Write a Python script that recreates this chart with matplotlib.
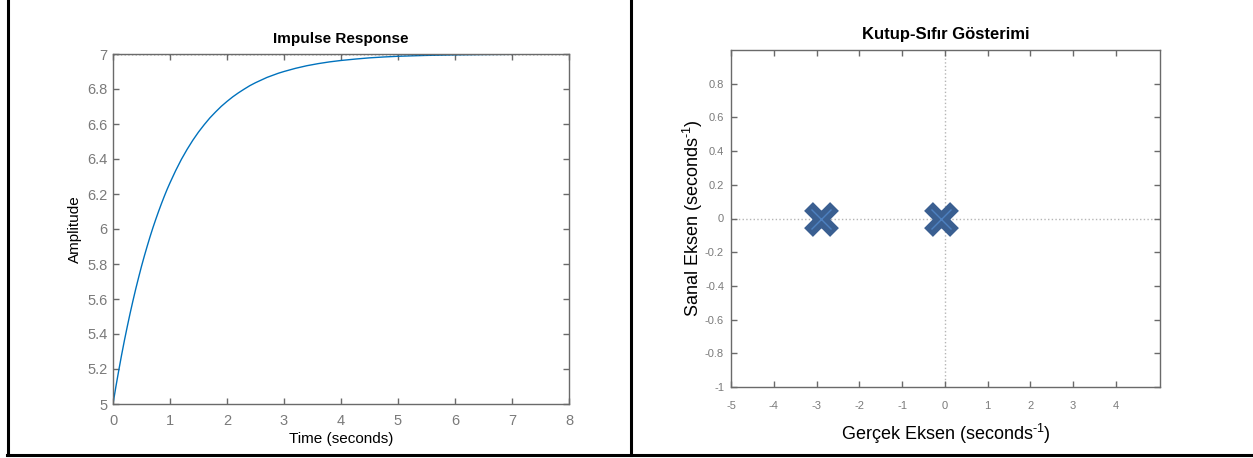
import matplotlib
matplotlib.use("Agg")
import matplotlib.pyplot as plt
from matplotlib.lines import Line2D

plt.rcParams['font.family'] = ['Liberation Sans', 'DejaVu Sans']
plt.rcParams['axes.unicode_minus'] = False
plt.rcParams['mathtext.fontset'] = 'custom'
plt.rcParams['mathtext.rm'] = 'Liberation Sans'
plt.rcParams['mathtext.it'] = 'Liberation Sans'

# Impulse response
time_s = [0, 0.05, 0.1, 0.15, 0.2, 0.25, 0.3, 0.35, 0.4, 0.45, 0.5, 0.55, 0.6, 0.65,
          0.7, 0.75, 0.8, 0.85, 0.9, 0.95, 1.0, 1.1, 1.2, 1.3, 1.4, 1.5, 1.6, 1.7,
          1.8, 1.9, 2.0, 2.1, 2.2, 2.3, 2.4, 2.5, 2.6, 2.7, 2.8, 2.9, 3.0, 3.2, 3.4,
          3.6, 3.8, 4.0, 4.25, 4.5, 4.75, 5.0, 5.5, 6.0, 6.5, 7.0, 7.5, 8.0]
amplitude = [5.000, 5.098, 5.190, 5.279, 5.363, 5.442, 5.518, 5.590, 5.659, 5.724,
             5.787, 5.846, 5.902, 5.956, 6.007, 6.055, 6.101, 6.145, 6.187, 6.227,
             6.264, 6.334, 6.398, 6.455, 6.507, 6.554, 6.596, 6.635, 6.669, 6.701,
             6.729, 6.755, 6.778, 6.799, 6.819, 6.836, 6.851, 6.866, 6.878, 6.890,
             6.900, 6.918, 6.933, 6.945, 6.955, 6.963, 6.971, 6.978, 6.983, 6.987,
             6.992, 6.995, 6.997, 6.998, 6.999, 7.000]
steady_state = 7.0
left_xticks = [0, 1, 2, 3, 4, 5, 6, 7, 8]
left_yticks = [5, 5.2, 5.4, 5.6, 5.8, 6, 6.2, 6.4, 6.6, 6.8, 7]
left_yticklabels = ['5', '5.2', '5.4', '5.6', '5.8', '6', '6.2', '6.4', '6.6', '6.8', '7']

# Pole-zero map (poles)
pole_real = [-2.9, -0.1]
pole_imag = [0.0, 0.0]
right_xticks = [-5, -4, -3, -2, -1, 0, 1, 2, 3, 4]
right_xticklabels = ['-5', '-4', '-3', '-2', '-1', '0', '1', '2', '3', '4']
right_yticks = [-1, -0.8, -0.6, -0.4, -0.2, 0, 0.2, 0.4, 0.6, 0.8]
right_yticklabels = ['-1', '-0.8', '-0.6', '-0.4', '-0.2', '0', '0.2', '0.4', '0.6', '0.8']

W, H = 1253, 458
fig = plt.figure(figsize=(W / 100, H / 100), dpi=100)

spine_c = '#6a6a6a'
label_c = '#7a7a7a'

def style(ax, fs, xpad, ypad):
    for s in ax.spines.values():
        s.set_color(spine_c)
        s.set_linewidth(1.0)
    ax.tick_params(direction='in', top=True, right=True, colors=spine_c,
                   labelcolor=label_c, labelsize=fs, length=4, width=1)
    ax.tick_params(axis='x', pad=xpad)
    ax.tick_params(axis='y', pad=ypad)

# ---- Left panel
ax1 = fig.add_axes([113 / W, 1 - 404 / H, 456 / W, 350 / H])
ax1.plot(time_s, amplitude, color='#0072BD', lw=1.0)
ax1.axhline(steady_state, color='black', ls=':', lw=1.0)
ax1.set_xlim(0, 8)
ax1.set_ylim(5, 7)
ax1.set_xticks(left_xticks)
ax1.set_yticks(left_yticks)
ax1.set_yticklabels(left_yticklabels)
style(ax1, 10.5, 7, 4)
ax1.set_title('Impulse Response', fontsize=11, fontweight='bold', pad=8)
ax1.set_xlabel('Time (seconds)', fontsize=11, labelpad=3)
ax1.set_ylabel('Amplitude', fontsize=11, labelpad=4)

# ---- Right panel
ax2 = fig.add_axes([731 / W, 1 - 387 / H, 429 / W, 337 / H])
ax2.axhline(0, color='#b5b5b5', ls=':', lw=1.0, zorder=1)
ax2.axvline(0, color='#b5b5b5', ls=':', lw=1.0, zorder=1)
ax2.plot(pole_real, pole_imag, ls='none', marker='x', markersize=19,
         markeredgewidth=9, color='#3a5f91', zorder=3)
ax2.plot(pole_real, pole_imag, ls='none', marker='x', markersize=14,
         markeredgewidth=1, color='#4d80c0', zorder=4)
ax2.set_xlim(-5, 5.03)
ax2.set_ylim(-1, 1)
ax2.set_xticks(right_xticks)
ax2.set_xticklabels(right_xticklabels)
ax2.set_yticks(right_yticks)
ax2.set_yticklabels(right_yticklabels)
style(ax2, 8, 10, 5)
ax2.set_title('Kutup-Sıfır Gösterimi', fontsize=12, fontweight='bold', pad=8)
ax2.set_xlabel(r'Gerçek Eksen (seconds$^{\text{-}1}$)', fontsize=13, labelpad=8)
ax2.set_ylabel(r'Sanal Eksen (seconds$^{\text{-}1}$)', fontsize=13, labelpad=0)

# ---- Frame lines (figure pixel coords)
def fline(x0, y0, x1, y1):
    fig.add_artist(Line2D([x0 / W, x1 / W], [1 - y0 / H, 1 - y1 / H],
                          transform=fig.transFigure, color='black', lw=2.2))

fline(8, 0, 8, 455)
fline(631, 0, 631, 455)
fline(7, 455, W, 455)

fig.savefig('out.png', dpi=100)
